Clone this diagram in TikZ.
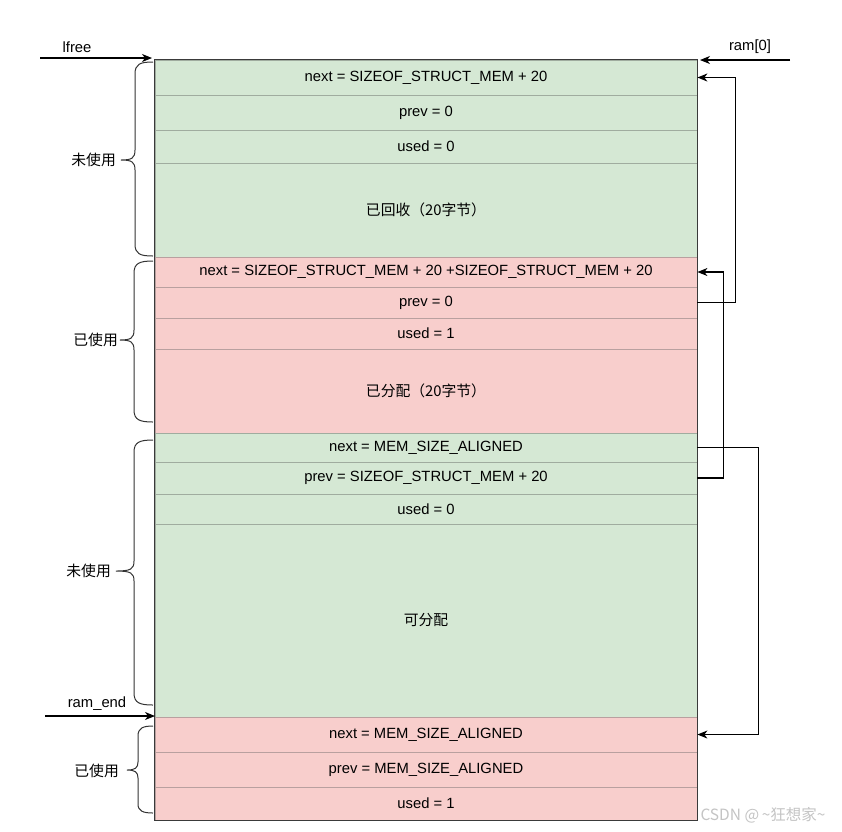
\documentclass[tikz,border=0pt]{standalone}
\usepackage{fontspec}
\setmainfont{Liberation Sans}
\newfontfamily\cjk{Noto Sans CJK SC}
\usetikzlibrary{arrows.meta}
\definecolor{gfill}{HTML}{D5E8D4}
\definecolor{rfill}{HTML}{F8CECC}
\definecolor{gline}{HTML}{A0AC9F}
\definecolor{rline}{HTML}{B9A09F}
\definecolor{frame}{HTML}{3A3A3A}
\definecolor{wm}{HTML}{C4C4C4}
\begin{document}
\begin{tikzpicture}[x=1pt,y=-1pt,
  every node/.style={font=\fontsize{14.8}{17}\selectfont, inner sep=0pt},
  cell/.style={minimum width=542pt, draw, line width=0.8pt},
  gcell/.style={cell, fill=gfill, draw=gline},
  rcell/.style={cell, fill=rfill, draw=rline},
  lbl/.style={font=\fontsize{14.8}{17}\cjk},
  link/.style={draw=black, line width=1.1pt, -{Stealth[length=10pt,width=8pt,inset=3pt]}},
  bracestyle/.style={draw=black!80, line width=1pt},
]
\useasboundingbox[fill=white] (0,0) rectangle (842,831);

% block 1 (free)
\node[gcell, minimum height=35pt] (b1next) at (426,77.5) {next = SIZEOF\_STRUCT\_MEM + 20};
\node[gcell, minimum height=35pt] (b1prev) at (426,112.5) {prev = 0};
\node[gcell, minimum height=33pt] (b1used) at (426,146.5) {used = 0};
\node[gcell, minimum height=94pt, lbl] (b1body) at (426,210) {已回收（20字节）};
% block 2 (used)
\node[rcell, minimum height=30pt] (b2next) at (426,272) {next = SIZEOF\_STRUCT\_MEM + 20 +SIZEOF\_STRUCT\_MEM + 20};
\node[rcell, minimum height=31pt] (b2prev) at (426,302.5) {prev = 0};
\node[rcell, minimum height=31pt] (b2used) at (426,333.5) {used = 1};
\node[rcell, minimum height=84pt, lbl] (b2body) at (426,391) {已分配（20字节）};
% block 3 (free)
\node[gcell, minimum height=29pt] (b3next) at (426,447.5) {next = MEM\_SIZE\_ALIGNED};
\node[gcell, minimum height=32pt] (b3prev) at (426,478) {prev = SIZEOF\_STRUCT\_MEM + 20};
\node[gcell, minimum height=30pt] (b3used) at (426,509) {used = 0};
\node[gcell, minimum height=193pt, lbl] (b3body) at (426,620.5) {可分配};
% block 4 (used)
\node[rcell, minimum height=35pt] (b4next) at (426,734.5) {next = MEM\_SIZE\_ALIGNED};
\node[rcell, minimum height=35pt] (b4prev) at (426,769.5) {prev = MEM\_SIZE\_ALIGNED};
\node[rcell, minimum height=33pt] (b4used) at (426,803.5) {used = 1};

% outer frame
\draw[frame, line width=1.2pt] (b1next.north west) rectangle (b4used.south east);

% left pointer arrows
\node (lfree) at (77,47) {lfree};
\coordinate (lfreeS) at (40,58);
\coordinate (lfreeE) at (152,58);
\draw[link] (lfreeS) -- (lfreeE);

\node (ram0) at (750,47) {ram[0]};
\coordinate (ram0S) at (790,60);
\coordinate (ram0E) at (700,60);
\draw[link] (ram0S) -- (ram0E);

\node (ramend) at (97,704) {ram\_end};
\coordinate (ramendS) at (45,716);
\coordinate (ramendE) at (155,716);
\draw[link] (ramendS) -- (ramendE);

% right links
\draw[link] (b2prev.east) -- ++(38,0) |- (b1next.east);
\draw[link] (b3prev.east) -- ++(26,0) |- (b2next.east);
\draw[link] (b3next.east) -- ++(61,0) |- (b4next.east);

% braces
\draw[bracestyle] (153,62) .. controls (140,62) and (135,64) .. (135,74) -- (135,150)
  .. controls (135,158) and (132,160) .. (121,160)
  .. controls (132,160) and (135,162) .. (135,170) -- (135,244)
  .. controls (135,254) and (140,256) .. (153,256);
\node[lbl, anchor=east] (lab1) at (116,160) {未使用};

\draw[bracestyle] (153,261) .. controls (140,261) and (134,263) .. (134,273) -- (134,330)
  .. controls (134,338) and (131,340) .. (120,340)
  .. controls (131,340) and (134,342) .. (134,350) -- (134,410)
  .. controls (134,420) and (140,422) .. (153,422);
\node[lbl, anchor=east] (lab2) at (118,340) {已使用};

\draw[bracestyle] (153,440) .. controls (140,440) and (134,442) .. (134,452) -- (134,561)
  .. controls (134,569) and (131,571) .. (116,571)
  .. controls (131,571) and (134,573) .. (134,581) -- (134,693)
  .. controls (134,703) and (140,705) .. (153,705);
\node[lbl, anchor=east] (lab3) at (111,571) {未使用};

\draw[bracestyle] (153,726) .. controls (143,726) and (138,728) .. (138,736) -- (138,762)
  .. controls (138,768) and (135,770) .. (127,770)
  .. controls (135,770) and (138,772) .. (138,778) -- (138,804)
  .. controls (138,811) and (143,813) .. (153,813);
\node[lbl, anchor=east] (lab4) at (119,771) {已使用};

% watermark
\node[font=\fontsize{15.5}{17}\cjk, text=wm] (wmark) at (763,815) {CSDN @\,\~{}狂想家\~{}};
\end{tikzpicture}
\end{document}
